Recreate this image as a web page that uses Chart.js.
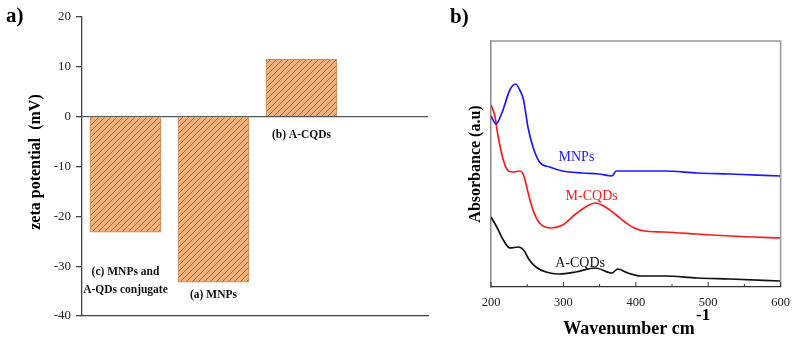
<!DOCTYPE html>
<html>
<head>
<meta charset="utf-8">
<script src="https://cdn.jsdelivr.net/npm/chart.js@4.4.0/dist/chart.umd.min.js"></script>
<style>
  body { margin: 0; background: #fff; width: 798px; height: 343px; position: relative; overflow: hidden; }
  #zeta { position: absolute; left: 0; top: 0; }
  #abs { position: absolute; left: 440px; top: 0; }
</style>
</head>
<body>
<canvas id="zeta" width="440" height="343"></canvas>
<canvas id="abs" width="358" height="343"></canvas>
<script>
// ---- panel a) zeta potential ----
const barSlots = [1, 2, 3];
const barLabelLines = [['(c) MNPs and', 'A-QDs conjugate'], ['(a) MNPs'], ['(b) A-CQDs']];
const zetaValues = [-23.2, -33.2, 11.5];
const zetaTicks = [-40, -30, -20, -10, 0, 10, 20];

// ---- panel b) absorbance spectra ----
const wnMNPs = [200, 207, 215, 226, 234, 241, 245, 251, 258, 267, 281, 299, 326, 349, 367, 373, 394, 439, 485, 530, 600];
const absMNPs = [1.71, 1.63, 1.74, 1.97, 2.03, 1.95, 1.87, 1.60, 1.40, 1.25, 1.20, 1.16, 1.14, 1.13, 1.11, 1.16, 1.16, 1.16, 1.14, 1.13, 1.11];
const wnMCQDs = [200, 205, 210, 217, 224, 231, 239, 245, 251, 258, 267, 283, 299, 317, 333, 344, 358, 373, 385, 398, 412, 439, 485, 530, 600];
const absMCQDs = [1.82, 1.72, 1.50, 1.27, 1.16, 1.15, 1.16, 1.12, 0.95, 0.77, 0.64, 0.59, 0.62, 0.73, 0.81, 0.84, 0.80, 0.72, 0.65, 0.59, 0.56, 0.55, 0.53, 0.51, 0.49];
const wnACQDs = [200, 208, 217, 226, 238, 245, 253, 262, 276, 294, 317, 344, 367, 375, 389, 407, 439, 485, 530, 600];
const absACQDs = [0.70, 0.60, 0.47, 0.39, 0.40, 0.37, 0.27, 0.20, 0.15, 0.13, 0.15, 0.19, 0.14, 0.18, 0.14, 0.11, 0.11, 0.09, 0.08, 0.06];
const wnTicks = [200, 300, 400, 500, 600];

const SERIF = '"Liberation Serif", "DejaVu Serif", serif';

function hatch() {
  const c = document.createElement('canvas');
  c.width = 6; c.height = 6;
  const g = c.getContext('2d');
  g.fillStyle = '#f4b07b';
  g.fillRect(0, 0, 6, 6);
  g.strokeStyle = '#8e6b52';
  g.lineWidth = 0.9;
  g.beginPath();
  g.moveTo(0, 6); g.lineTo(6, 0);
  g.moveTo(-1, 1); g.lineTo(1, -1);
  g.moveTo(5, 7); g.lineTo(7, 5);
  g.stroke();
  return g.createPattern(c, 'repeat');
}

const zetaText = {
  id: 'zetaText',
  afterDraw(chart) {
    const ctx = chart.ctx, x = chart.scales.x, y = chart.scales.y;
    ctx.save();
    ctx.fillStyle = '#000';
    ctx.font = 'bold 21px ' + SERIF;
    ctx.textAlign = 'left';
    ctx.textBaseline = 'alphabetic';
    ctx.fillText('a)', 6, 22);

    ctx.save();
    ctx.translate(36, 162);
    ctx.rotate(-Math.PI / 2);
    ctx.textAlign = 'center';
    ctx.textBaseline = 'middle';
    ctx.font = 'bold 16px ' + SERIF;
    ctx.fillText('zeta potential  (mV)', 0, 0);
    ctx.restore();

    // labels under each bar
    const gaps = [40, 13, 18];
    ctx.font = 'bold 11.5px ' + SERIF;
    ctx.textAlign = 'center';
    ctx.textBaseline = 'middle';
    ctx.fillStyle = '#111';
    barSlots.forEach((s, i) => {
      const px = x.getPixelForValue(s);
      const base = y.getPixelForValue(Math.min(zetaValues[i], 0)) + gaps[i];
      barLabelLines[i].forEach((t, j) => ctx.fillText(t, px, base + j * 18));
    });
    ctx.restore();
  }
};

new Chart(document.getElementById('zeta'), {
  type: 'bar',
  data: {
    datasets: [{
      data: barSlots.map((s, i) => ({ x: s, y: zetaValues[i] })),
      backgroundColor: hatch(),
      borderColor: '#c88a5c',
      borderWidth: 1,
      barThickness: 71
    }]
  },
  options: {
    responsive: false,
    animation: false,
    layout: { padding: { top: 17, right: 12, bottom: 27, left: 0 } },
    plugins: { legend: { display: false }, tooltip: { enabled: false } },
    scales: {
      x: {
        type: 'linear', min: 0.506, max: 4.438, offset: false,
        ticks: { display: false },
        grid: { display: false, drawTicks: false, offset: false },
        border: { color: '#444', width: 1.3 },
        afterFit: s => { s.height = 0; }
      },
      y: {
        min: -40, max: 20,
        afterBuildTicks: s => { s.ticks = zetaTicks.map(v => ({ value: v })); },
        ticks: { font: { family: SERIF, size: 13 }, color: '#222', padding: 5 },
        grid: {
          color: c => c.tick && c.tick.value === 0 ? '#555' : 'rgba(0,0,0,0)',
          lineWidth: 1.3,
          tickLength: 6,
          tickColor: '#444'
        },
        border: { color: '#444', width: 1.3 },
        afterFit: s => { s.width = 82; }
      }
    }
  },
  plugins: [zetaText]
});

const absText = {
  id: 'absText',
  afterDraw(chart) {
    const ctx = chart.ctx, a = chart.chartArea, x = chart.scales.x, y = chart.scales.y;
    ctx.save();
    // frame top/right
    ctx.strokeStyle = '#999';
    ctx.lineWidth = 1.5;
    ctx.beginPath();
    ctx.moveTo(a.left, a.top); ctx.lineTo(a.right, a.top); ctx.lineTo(a.right, a.bottom);
    ctx.stroke();
    // inward ticks on the bottom axis
    ctx.strokeStyle = '#333';
    ctx.lineWidth = 1;
    for (let v = 200; v <= 600; v += 50) {
      const px = x.getPixelForValue(v);
      const len = v % 100 === 0 ? 5 : 3;
      ctx.beginPath();
      ctx.moveTo(px, a.bottom); ctx.lineTo(px, a.bottom - len);
      ctx.stroke();
    }

    ctx.fillStyle = '#000';
    ctx.font = 'bold 21px ' + SERIF;
    ctx.textAlign = 'left';
    ctx.fillText('b)', 10, 23);

    ctx.font = 'bold 18px ' + SERIF;
    ctx.textAlign = 'center';
    ctx.fillText('Wavenumber cm', 189, 334);
    ctx.font = 'bold 17px ' + SERIF;
    ctx.textAlign = 'left';
    ctx.fillText('-1', 256, 320);

    ctx.save();
    ctx.translate(36, 164);
    ctx.rotate(-Math.PI / 2);
    ctx.textAlign = 'center';
    ctx.textBaseline = 'middle';
    ctx.font = 'bold 16px ' + SERIF;
    ctx.fillText('Absorbance (a.u)', 0, 0);
    ctx.restore();

    // curve labels
    ctx.font = '14px ' + SERIF;
    ctx.textAlign = 'center';
    ctx.textBaseline = 'middle';
    const tags = [['MNPs', '#1a1aff', 318, 1.30], ['M-CQDs', '#ff1a1a', 339, 0.91], ['A-CQDs', '#111', 323, 0.24]];
    tags.forEach(t => {
      ctx.fillStyle = t[1];
      ctx.fillText(t[0], x.getPixelForValue(t[2]), y.getPixelForValue(t[3]));
    });
    ctx.restore();
  }
};

function series(wn, ab, color) {
  return {
    data: wn.map((w, i) => ({ x: w, y: ab[i] })),
    borderColor: color,
    borderWidth: 1.7,
    pointRadius: 0,
    cubicInterpolationMode: 'monotone',
    fill: false
  };
}

new Chart(document.getElementById('abs'), {
  type: 'line',
  data: {
    datasets: [
      series(wnMNPs, absMNPs, '#1a1aff'),
      series(wnMCQDs, absMCQDs, '#ff1a1a'),
      series(wnACQDs, absACQDs, '#111')
    ]
  },
  options: {
    responsive: false,
    animation: false,
    layout: { padding: { top: 41, right: 13, bottom: 0, left: 0 } },
    plugins: { legend: { display: false }, tooltip: { enabled: false } },
    scales: {
      x: {
        type: 'linear', min: 200, max: 600,
        afterBuildTicks: s => { s.ticks = wnTicks.map(v => ({ value: v })); },
        ticks: { font: { family: SERIF, size: 12.5 }, color: '#222', padding: 8 },
        grid: { display: false, drawTicks: false },
        border: { color: '#333', width: 1.3 },
        afterFit: s => { s.height = 56; }
      },
      y: {
        min: 0, max: 2.46,
        ticks: { display: false },
        grid: { display: false, drawTicks: false },
        border: { color: '#888', width: 1.5 },
        afterFit: s => { s.width = 51; }
      }
    }
  },
  plugins: [absText]
});
</script>
</body>
</html>
